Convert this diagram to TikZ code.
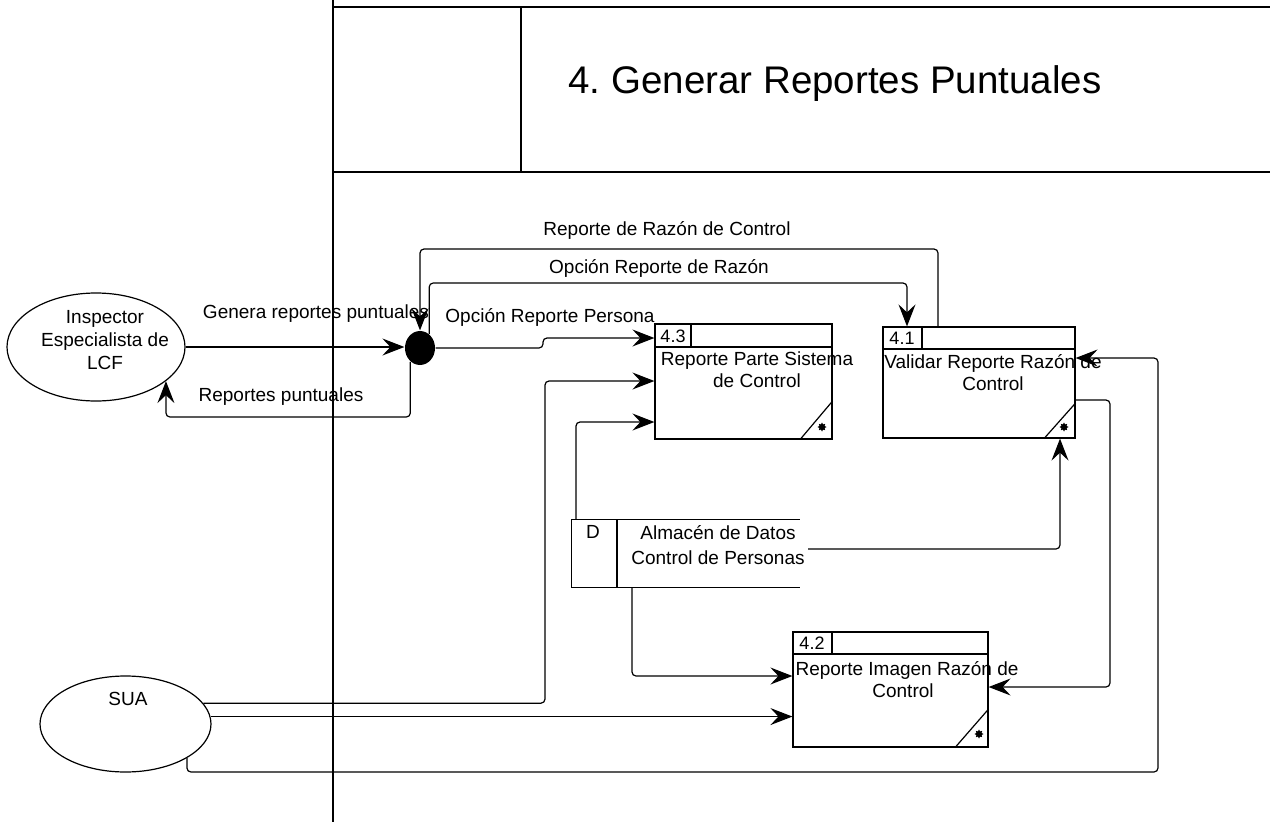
\documentclass[tikz,border=0pt]{standalone}
\usepackage{fontspec}
\setmainfont{Liberation Sans}
\usetikzlibrary{arrows.meta,shapes.geometric,calc}
\frenchspacing
\begin{document}
\begin{tikzpicture}[x=1pt,y=-1pt,
  line width=1.2pt,
  actor/.style={draw, ellipse, inner sep=0pt},
  lbl/.style={font=\fontsize{19}{23}\selectfont, inner sep=0pt, align=center},
  numlbl/.style={font=\fontsize{18}{22}\selectfont, inner sep=0pt},
  boxtext/.style={font=\fontsize{19}{22}\selectfont, inner sep=0pt, align=center},
  procbox/.style={draw, rectangle, inner sep=0pt},
  flow/.style={draw, rounded corners=4pt, -{Stealth[length=22pt,width=17pt,inset=8pt]}},
  marker/.style={star, star points=8, star point ratio=1.6, fill=black, draw=none, minimum size=9pt, inner sep=0pt},
  frame/.style={draw, line width=1.2pt}]
\useasboundingbox (0,0) rectangle (1270,822);

% swimlane frame and title area
\draw[frame] (333,0) -- (333,822);
\draw[frame] (333,7) -- (1270,7);
\draw[frame] (521,7) -- (521,172);
\draw[frame] (333,172) -- (1270,172);
\node[font=\fontsize{38.5}{42}\selectfont, inner sep=0pt, anchor=base] (title) at (835,93) {4. Generar Reportes Puntuales};

% external entities
\node[actor, minimum width=178pt, minimum height=108pt] (ins) at (96,347) {};
\node[lbl] (inst) at (105,340) {Inspector\\Especialista de\\LCF};
\node[actor, minimum width=171pt, minimum height=96pt] (sua) at (125.5,724) {};
\node[lbl] (suat) at (128,699) {SUA};

% junction
\node[ellipse, fill=black, minimum width=30pt, minimum height=34pt, inner sep=0pt] (dot) at (420,348) {};

% process 4.3
\node[procbox, minimum width=177pt, minimum height=115pt] (p43) at (743.5,381.5) {};
\draw (p43.west |- 0,347) -- (p43.east |- 0,347);
\draw (p43.north -| 691,0) -- (691,347);
\draw (p43.south -| 800,0) -- (p43.east |- 0,401);
\node[marker] (s43) at (822,427) {};
\node[numlbl] (n43) at (673,336) {4.3};
\node[boxtext] (t43) at (757,370) {Reporte Parte Sistema\\de Control};

% process 4.1
\node[procbox, minimum width=192pt, minimum height=111pt] (p41) at (979,382.5) {};
\draw (p41.west |- 0,349) -- (p41.east |- 0,349);
\draw (p41.north -| 922,0) -- (922,349);
\draw (p41.south -| 1044,0) -- (p41.east |- 0,403);
\node[marker] (s41) at (1064,427) {};
\node[numlbl] (n41) at (902,338) {4.1};
\node[boxtext] (t41) at (993,373) {Validar Reporte Razón de\\Control};

% process 4.2
\node[procbox, minimum width=195pt, minimum height=115pt] (p42) at (890.5,689.5) {};
\draw (p42.west |- 0,654) -- (p42.east |- 0,654);
\draw (p42.north -| 832,0) -- (832,654);
\draw (p42.south -| 955,0) -- (p42.east |- 0,709);
\node[marker] (s42) at (979,734) {};
\node[numlbl] (n42) at (812,643) {4.2};
\node[boxtext] (t42) at (907,680) {Reporte Imagen Razón de\\Control\hspace*{8pt}};

% data store
\node[minimum width=227pt, minimum height=67pt, inner sep=0pt] (ds) at (685.5,553.5) {};
\draw (ds.north west) -- (ds.north east);
\draw (ds.south west) -- (ds.south east);
\draw (ds.north west) -- (ds.south west);
\draw (ds.north -| 617,0) -- (ds.south -| 617,0);
\node[lbl] (dsid) at (593,532) {D};
\node[boxtext, font=\fontsize{19}{25}\selectfont] (dst) at (718,545) {Almacén de Datos\\Control de Personas};
\coordinate (dsout) at (808,549);

% data flows
\draw[flow] (ins.east) -- (dot.west |- ins.east);
\draw[flow] (dot.235) |- (ins.-26 |- 0,417) -- (ins.-26);
\draw[flow] (p41.north -| 938,0) |- (dot.north |- 0,249) -- (dot.north);
\draw[flow] (dot.57) |- (907,283) -- (p41.north -| 907,0);
\draw[flow] (dot.east) -- (543,348) |- (p43.west |- 0,338);
\draw[flow] (sua.15) -| (545,381) -- (p43.west |- 0,381);
\draw[flow] (ds.north -| 576,0) |- (p43.west |- 0,422);
\draw[flow] (dsout) -| (p41.south -| 1060,0);
\draw[flow] (ds.south -| 632,0) |- (p42.west |- 0,676);
\draw[flow] (sua.5) -- (p42.west |- sua.5);
\draw[flow] (sua.-29) |- (1158,772) |- (p41.east |- 0,358);
\draw[flow] (p41.east |- 0,400) -| (1110,687) -- (p42.east |- 0,687);

% flow labels
\node[lbl] (l1) at (316,314) {Genera reportes puntuales};
\node[lbl] (l2) at (281,397) {Reportes puntuales};
\node[lbl] (l3) at (667,230) {Reporte de Razón de Control};
\node[lbl] (l4) at (659,268) {Opción Reporte de Razón};
\node[lbl] (l5) at (550,317) {Opción Reporte Persona};
\end{tikzpicture}
\end{document}
